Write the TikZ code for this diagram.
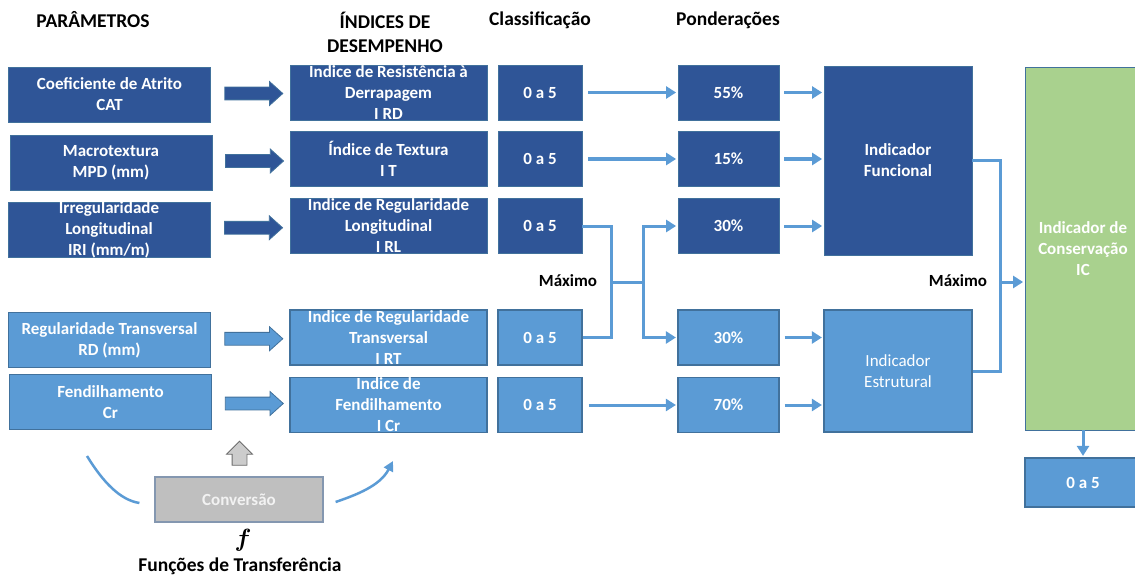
\documentclass[tikz,border=0pt]{standalone}
\usepackage{bm}
\usepackage{fontspec}
\setmainfont{Carlito}
\usetikzlibrary{positioning, shapes.arrows, calc, arrows.meta}

\definecolor{darkblue}{HTML}{2F5597}
\definecolor{lightblue}{HTML}{5B9BD5}
\definecolor{edgeblue}{HTML}{41719C}
\definecolor{boxgreen}{HTML}{A9D18E}
\definecolor{boxgray}{HTML}{BFBFBF}
\definecolor{grayedge}{HTML}{8497B0}

\newcommand{\boxfont}{\fontsize{17}{21}\selectfont}
\newcommand{\headfont}{\fontsize{19.5}{24}\selectfont\bfseries}
\newcommand{\bigf}{\fontsize{24}{24}\selectfont}

\begin{document}
\begin{tikzpicture}[x=1pt, y=-1pt]
		\tikzstyle{darkbox}=[draw=edgeblue, line width=0.8, fill=darkblue, text=white, font=\boxfont\bfseries, align=center, inner sep=0, minimum height=55]
		\tikzstyle{lightbox}=[darkbox, fill=lightblue, line width=1.2]
		\tikzstyle{boxtxt}=[text=white, font=\boxfont\bfseries, align=center, inner sep=0]
		\tikzstyle{head}=[font=\headfont, align=center, text=black]
		\tikzstyle{bigarrow}=[single arrow, draw=edgeblue, line width=0.8, fill=darkblue, minimum height=58, single arrow head extend=5.5, single arrow tip angle=84, inner xsep=0, inner ysep=6]
		\tikzstyle{link}=[draw=lightblue, line width=3, -{Triangle[length=10pt, width=12pt]}, shorten >=1.5pt]
		\tikzstyle{joinline}=[draw=lightblue, line width=3]
		
		\useasboundingbox (0,0) rectangle (1135,575);
		
		% column titles
		\node (h1) at (93,20) [head] {PARÂMETROS};
		\node (h2) at (385,32) [head] {ÍNDICES DE\\DESEMPENHO};
		\node (h3) at (540,20) [head] {Classificação};
		\node (h4) at (728,20) [head] {Ponderações};
		
		% parameters
		\node (cat) at (109.5,94.5) [darkbox, minimum width=202] {Coeficiente de Atrito\\CAT};
		\node (mpd) at (111,163) [darkbox, minimum width=202] {Macrotextura\\MPD (mm)};
		\node (iri) at (109,229.5) [darkbox, minimum width=202] {};
		\node (iritxt) at (iri) [boxtxt] {Irregularidade\\Longitudinal\\IRI (mm/m)};
		\node (rd) at (109.5,340) [lightbox, minimum width=202] {Regularidade Transversal\\RD (mm)};
		\node (cr) at (110.5,402) [lightbox, minimum width=202] {Fendilhamento\\Cr};
		
		% performance indices
		\node (ird) at (388.5,92.5) [darkbox, minimum width=197] {};
		\node (irdtxt) at (ird) [boxtxt] {Indice de Resistência à\\Derrapagem\\I RD};
		\node (it) at (388.5,159) [darkbox, minimum width=197] {Índice de Textura\\I T};
		\node (irl) at (388.5,226) [darkbox, minimum width=197] {};
		\node (irltxt) at (irl) [boxtxt] {Indice de Regularidade\\Longitudinal\\I RL};
		\node (irt) at (388.5,337.5) [lightbox, minimum width=197] {};
		\node (irttxt) at (irt) [boxtxt] {Indice de Regularidade\\Transversal\\I RT};
		\node (icr) at (388.5,405) [lightbox, minimum width=197] {};
		\node (icrtxt) at (icr) [boxtxt] {Indice de\\Fendilhamento\\I Cr};
		
		\node (ba1) at ($(cat.east)!0.5!(ird.west)$) [bigarrow] {};
		\node (ba2) at ($(mpd.east)!0.5!(it.west)$) [bigarrow] {};
		\node (ba3) at ($(iri.east)!0.5!(irl.west)$) [bigarrow] {};
		\node (ba4) at ($(rd.east)!0.5!(irt.west)$) [bigarrow, fill=lightblue] {};
		\node (ba5) at ($(cr.east)!0.5!(icr.west)$) [bigarrow, fill=lightblue] {};
		
		% classification
		\node (c1) at (540,92.5) [darkbox, minimum width=84] {0 a 5};
		\node (c2) at (540,159) [darkbox, minimum width=84] {0 a 5};
		\node (c3) at (540,226) [darkbox, minimum width=84] {0 a 5};
		\node (c4) at (540,337.5) [lightbox, minimum width=84] {0 a 5};
		\node (c5) at (540,405) [lightbox, minimum width=84] {0 a 5};
		
		% weights
		\node (w1) at (728.5,92.5) [darkbox, minimum width=101] {55\%};
		\node (w2) at (728.5,159) [darkbox, minimum width=101] {15\%};
		\node (w3) at (728.5,226) [darkbox, minimum width=101] {30\%};
		\node (w4) at (728.5,337.5) [lightbox, minimum width=101] {30\%};
		\node (w5) at (728.5,405) [lightbox, minimum width=101] {70\%};
		
		% indicators
		\node (fun) at (898,160.5) [darkbox, minimum width=148, minimum height=189] {Indicador\\Funcional};
		\node (est) at (898,371) [lightbox, minimum width=148, minimum height=122, font=\boxfont] {Indicador\\Estrutural};
		\node (ic) at (1083,248.5) [lightbox, fill=boxgreen, line width=0.8, minimum width=116, minimum height=363] {Indicador de\\Conservação\\IC};
		\node (out) at (1083,482.5) [lightbox, minimum width=116, minimum height=49] {0 a 5};
		
		\draw[link, shorten <=6pt] (c1) -- (w1);
		\draw[link, shorten <=6pt] (c2) -- (w2);
		\draw[link, shorten <=6pt] (c5) -- (w5);
		\draw[link, shorten <=5pt] (w1.east) -- (w1.east -| fun.west);
		\draw[link, shorten <=5pt] (w2.east) -- (w2.east -| fun.west);
		\draw[link, shorten <=5pt] (w3.east) -- (w3.east -| fun.west);
		\draw[link, shorten <=5pt] (w4.east) -- (w4.east -| est.west);
		\draw[link, shorten <=5pt] (w5.east) -- (w5.east -| est.west);
		
		% maximum of the two regularity classes
		\coordinate (jA) at (611,282);
		\coordinate (jB) at (643,282);
		\node (max1) at (568,281) [font=\boxfont\bfseries] {Máximo};
		\draw[joinline] (c3.east) -| (jA) -- (jB);
		\draw[joinline] (c4.east) -| (jA);
		\draw[link] (jB) |- (w3.west);
		\draw[link] (jB) |- (w4.west);
		
		\coordinate (jC) at (1000,282);
		\node (max2) at (958,281) [font=\boxfont\bfseries] {Máximo};
		\draw[joinline] (fun.east) -| (jC);
		\draw[joinline] (est.east) -| (jC);
		\draw[link] (jC) -- (jC -| ic.west);
		\draw[link] (ic.south) -- (out.north);
		
		% transfer functions
		\node (conv) at (239,499.5) [lightbox, fill=boxgray, draw=grayedge, text=white!95!black, minimum width=168, minimum height=45] {Conversão};
		\node (up) at (239.5,457) [single arrow, shape border rotate=90, draw=gray!85!black, fill=gray!40, line width=0.8, minimum height=24, single arrow head extend=5.5, inner xsep=7, inner ysep=0] {};
		\coordinate (cvin) at (87,456);
		\coordinate (cvout) at (393,461);
		\draw[joinline, line width=2.5] (cvin) .. controls (103,482) and (120,500) .. ($(conv.west)+(-15,3.5)$);
		\draw[joinline, line width=2.5, -{Triangle[length=10pt, width=10pt]}] ($(conv.east)+(12,2.5)$) .. controls (356,495) and (380,486) .. (cvout);
		\node (ftxt) at (243,540) [font=\bigf] {$\bm{f}$};
		\node (ftitle) at (240,566) [head] {Funções de Transferência};
		
		\end{tikzpicture}
\end{document}
